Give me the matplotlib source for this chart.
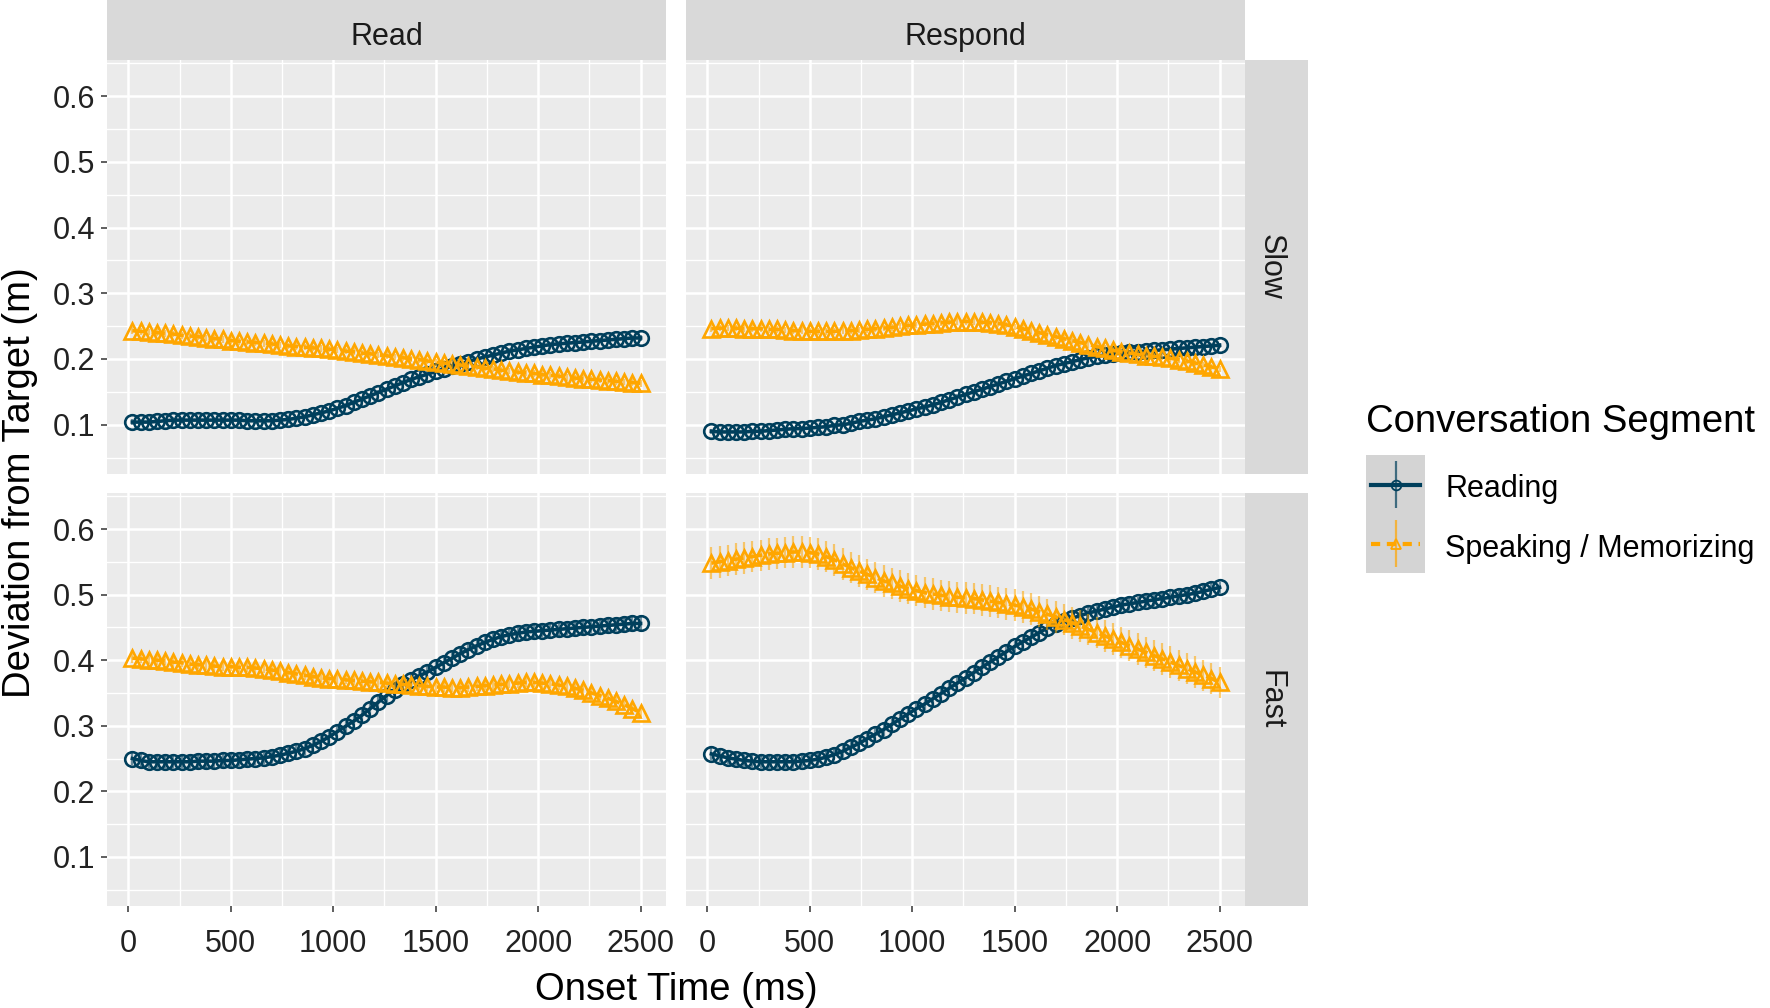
import numpy as np
import matplotlib
matplotlib.use('Agg')
import matplotlib.pyplot as plt
from matplotlib.ticker import MultipleLocator

plt.rcParams['font.family'] = ['Liberation Sans', 'DejaVu Sans']

# onset time grid (ms), one point every 40 ms
onset_ms = np.arange(20, 2501, 40)

# ---- Read / Slow ----
read_slow_reading = [
    0.104, 0.104, 0.104, 0.105, 0.106, 0.107, 0.107, 0.107, 0.107,
    0.107, 0.107, 0.107, 0.107, 0.107, 0.106, 0.106, 0.106, 0.106,
    0.107, 0.108, 0.110, 0.112, 0.115, 0.118, 0.121, 0.125, 0.129,
    0.134, 0.139, 0.144, 0.149, 0.154, 0.159, 0.164, 0.169, 0.173,
    0.177, 0.181, 0.185, 0.189, 0.193, 0.196, 0.200, 0.203, 0.206,
    0.209, 0.212, 0.214, 0.216, 0.218, 0.220, 0.222, 0.223, 0.224,
    0.225, 0.226, 0.227, 0.228, 0.229, 0.230, 0.231, 0.232, 0.232]
read_slow_speaking = [
    0.243, 0.242, 0.241, 0.240, 0.239, 0.238, 0.236, 0.235, 0.234,
    0.232, 0.231, 0.230, 0.228, 0.227, 0.226, 0.225, 0.224, 0.223,
    0.221, 0.220, 0.219, 0.218, 0.217, 0.216, 0.215, 0.214, 0.212,
    0.211, 0.209, 0.208, 0.206, 0.205, 0.203, 0.202, 0.200, 0.199,
    0.197, 0.195, 0.194, 0.192, 0.191, 0.189, 0.188, 0.186, 0.185,
    0.183, 0.182, 0.180, 0.179, 0.178, 0.176, 0.175, 0.174, 0.172,
    0.171, 0.170, 0.169, 0.168, 0.167, 0.166, 0.165, 0.164, 0.163]

# ---- Respond / Slow ----
respond_slow_reading = [
    0.090, 0.089, 0.089, 0.089, 0.089, 0.090, 0.090, 0.091, 0.092,
    0.093, 0.094, 0.094, 0.095, 0.096, 0.097, 0.099, 0.100, 0.102,
    0.105, 0.107, 0.109, 0.112, 0.115, 0.118, 0.121, 0.124, 0.127,
    0.130, 0.134, 0.138, 0.142, 0.146, 0.150, 0.154, 0.158, 0.162,
    0.166, 0.170, 0.174, 0.178, 0.182, 0.186, 0.190, 0.193, 0.196,
    0.199, 0.202, 0.204, 0.206, 0.208, 0.209, 0.210, 0.211, 0.212,
    0.213, 0.214, 0.215, 0.216, 0.217, 0.218, 0.219, 0.220, 0.221]
respond_slow_speaking = [
    0.246, 0.247, 0.247, 0.247, 0.246, 0.246, 0.246, 0.245, 0.245,
    0.244, 0.243, 0.243, 0.242, 0.242, 0.242, 0.242, 0.243, 0.243,
    0.244, 0.245, 0.246, 0.247, 0.248, 0.250, 0.251, 0.252, 0.253,
    0.254, 0.255, 0.256, 0.257, 0.257, 0.257, 0.256, 0.255, 0.254,
    0.252, 0.249, 0.246, 0.243, 0.240, 0.237, 0.234, 0.231, 0.228,
    0.225, 0.222, 0.219, 0.216, 0.213, 0.211, 0.209, 0.207, 0.205,
    0.204, 0.203, 0.201, 0.199, 0.197, 0.194, 0.191, 0.188, 0.185]

# ---- Read / Fast ----
read_fast_reading = [
    0.250, 0.247, 0.245, 0.245, 0.245, 0.245, 0.245, 0.245, 0.246,
    0.246, 0.246, 0.247, 0.247, 0.248, 0.249, 0.250, 0.251, 0.253,
    0.255, 0.258, 0.261, 0.265, 0.270, 0.276, 0.283, 0.291, 0.299,
    0.307, 0.316, 0.326, 0.336, 0.346, 0.355, 0.363, 0.370, 0.376,
    0.382, 0.389, 0.396, 0.403, 0.410, 0.416, 0.422, 0.427, 0.432,
    0.436, 0.439, 0.441, 0.443, 0.444, 0.445, 0.446, 0.447, 0.448,
    0.449, 0.450, 0.451, 0.452, 0.453, 0.454, 0.455, 0.456, 0.456]
read_fast_speaking = [
    0.403, 0.402, 0.401, 0.400, 0.399, 0.397, 0.396, 0.394, 0.393,
    0.392, 0.391, 0.390, 0.390, 0.389, 0.389, 0.388, 0.387, 0.385,
    0.383, 0.381, 0.379, 0.377, 0.375, 0.373, 0.372, 0.371, 0.370,
    0.369, 0.368, 0.367, 0.366, 0.365, 0.364, 0.363, 0.362, 0.361,
    0.360, 0.359, 0.359, 0.358, 0.358, 0.359, 0.360, 0.361, 0.362,
    0.363, 0.364, 0.365, 0.366, 0.366, 0.365, 0.364, 0.362, 0.360,
    0.357, 0.354, 0.350, 0.346, 0.342, 0.337, 0.332, 0.326, 0.320]

# ---- Respond / Fast ----
respond_fast_reading = [
    0.257, 0.254, 0.251, 0.249, 0.247, 0.246, 0.245, 0.245, 0.245,
    0.245, 0.245, 0.246, 0.247, 0.249, 0.252, 0.256, 0.261, 0.267,
    0.273, 0.280, 0.287, 0.294, 0.302, 0.310, 0.318, 0.326, 0.333,
    0.341, 0.349, 0.357, 0.365, 0.373, 0.381, 0.389, 0.397, 0.405,
    0.413, 0.421, 0.428, 0.435, 0.442, 0.449, 0.455, 0.460, 0.464,
    0.468, 0.472, 0.475, 0.478, 0.481, 0.484, 0.486, 0.488, 0.490,
    0.492, 0.494, 0.496, 0.498, 0.500, 0.502, 0.505, 0.508, 0.511]
respond_fast_speaking = [
    0.548, 0.550, 0.552, 0.554, 0.556, 0.558, 0.560, 0.562, 0.563,
    0.564, 0.565, 0.565, 0.564, 0.562, 0.558, 0.553, 0.547, 0.541,
    0.536, 0.531, 0.526, 0.521, 0.517, 0.513, 0.509, 0.506, 0.503,
    0.501, 0.499, 0.497, 0.496, 0.495, 0.494, 0.492, 0.490, 0.488,
    0.486, 0.484, 0.481, 0.478, 0.474, 0.470, 0.466, 0.462, 0.457,
    0.452, 0.447, 0.442, 0.437, 0.432, 0.427, 0.422, 0.417, 0.412,
    0.407, 0.402, 0.397, 0.392, 0.387, 0.382, 0.377, 0.372, 0.366]

# standard errors (half-width of the error bars) per panel and segment
se_reading = {('Slow', 'Read'): 0.004, ('Slow', 'Respond'): 0.004,
              ('Fast', 'Read'): 0.010, ('Fast', 'Respond'): 0.009}
se_speaking = {('Slow', 'Read'): 0.005, ('Slow', 'Respond'): 0.005,
               ('Fast', 'Read'): 0.007, ('Fast', 'Respond'): 0.024}

col_names = ['Read', 'Respond']
row_names = ['Slow', 'Fast']
segment_names = ['Reading', 'Speaking / Memorizing']
y_ticks = [0.1, 0.2, 0.3, 0.4, 0.5, 0.6]
x_ticks = [0, 500, 1000, 1500, 2000, 2500]

panel_data = {
    ('Slow', 'Read'): (read_slow_reading, read_slow_speaking),
    ('Slow', 'Respond'): (respond_slow_reading, respond_slow_speaking),
    ('Fast', 'Read'): (read_fast_reading, read_fast_speaking),
    ('Fast', 'Respond'): (respond_fast_reading, respond_fast_speaking),
}

NAVY = '#003f5c'
ORANGE = '#ffa600'
STRIP = '#d9d9d9'
PANEL = '#ebebeb'
TXT = '#1a1a1a'

W, H = 1770, 1008
fig = plt.figure(figsize=(W / 100, H / 100), dpi=100)


def box(x0, y0, x1, y1):
    # pixel box measured from top-left -> figure fraction rect
    return [x0 / W, 1 - y1 / H, (x1 - x0) / W, (y1 - y0) / H]


col_px = [(107, 666), (686, 1245)]
row_px = [(60, 474), (493, 906)]
strip_right = (1245, 1308)

for ri, row in enumerate(row_names):
    for ci, col in enumerate(col_names):
        x0, x1 = col_px[ci]
        y0, y1 = row_px[ri]
        ax = fig.add_axes(box(x0, y0, x1, y1))
        ax.set_facecolor(PANEL)
        for s in ax.spines.values():
            s.set_visible(False)
        ax.set_axisbelow(True)
        ax.set_xlim(-104, 2624)
        ax.set_ylim(0.025, 0.655)
        ax.xaxis.set_major_locator(MultipleLocator(500))
        ax.xaxis.set_minor_locator(MultipleLocator(250))
        ax.yaxis.set_major_locator(MultipleLocator(0.1))
        ax.yaxis.set_minor_locator(MultipleLocator(0.05))
        ax.set_xticks(x_ticks)
        ax.set_yticks(y_ticks)
        ax.grid(which='major', color='white', lw=1.8)
        ax.grid(which='minor', color='white', lw=1.0)
        ax.tick_params(which='minor', length=0)
        ax.tick_params(which='major', length=4.5, width=1.1, color='#333333',
                       labelsize=22, labelcolor='#222222', pad=4)
        ax.tick_params(axis='x', pad=12)
        if ri == 0:
            ax.tick_params(axis='x', length=0, labelbottom=False)
        if ci == 1:
            ax.tick_params(axis='y', length=0, labelleft=False)
        ax.set_yticklabels([f'{v:.1f}' for v in y_ticks])

        reading, speaking = panel_data[(row, col)]
        # reading: circles + solid line
        ax.errorbar(onset_ms, reading, yerr=se_reading[(row, col)], fmt='none',
                    ecolor=NAVY, elinewidth=1.6, alpha=0.55, capsize=0, zorder=2)
        ax.plot(onset_ms, reading, color=NAVY, lw=2.6, zorder=3)
        ax.plot(onset_ms, reading, ls='none', marker='o', ms=10.5, mfc='none',
                mec=NAVY, mew=1.9, zorder=3)
        # speaking / memorizing: triangles + dashed line
        ax.errorbar(onset_ms, speaking, yerr=se_speaking[(row, col)], fmt='none',
                    ecolor=ORANGE, elinewidth=1.6, alpha=0.55, capsize=0, zorder=4)
        ax.plot(onset_ms, speaking, color=ORANGE, lw=2.6, ls='--', zorder=5)
        ax.plot(onset_ms, speaking, ls='none', marker='^', ms=11, mfc='none',
                mec=ORANGE, mew=1.9, zorder=5)

# strips on top
for ci, col in enumerate(col_names):
    x0, x1 = col_px[ci]
    sax = fig.add_axes(box(x0, 0, x1, 60))
    sax.set_facecolor(STRIP)
    sax.set_xticks([]); sax.set_yticks([])
    for s in sax.spines.values():
        s.set_visible(False)
    sax.text(0.5, 0.38, col, ha='center', va='center', fontsize=22, color=TXT,
             transform=sax.transAxes)

# strips on the right
for ri, row in enumerate(row_names):
    y0, y1 = row_px[ri]
    sax = fig.add_axes(box(strip_right[0], y0, strip_right[1], y1))
    sax.set_facecolor(STRIP)
    sax.set_xticks([]); sax.set_yticks([])
    for s in sax.spines.values():
        s.set_visible(False)
    sax.text(0.40, 0.5, row, ha='center', va='center', fontsize=22, color=TXT,
             rotation=-90, transform=sax.transAxes)

fig.text(20 / W, 1 - 483 / H, 'Deviation from Target (m)', rotation=90,
         ha='center', va='center', fontsize=27.5, color='black')
fig.text(676 / W, 1 - 990 / H, 'Onset Time (ms)', ha='center', va='center',
         fontsize=27.5, color='black')

# legend
fig.text(1366 / W, 1 - 422 / H, 'Conversation Segment', ha='left', va='center',
         fontsize=27.5, color='black')
lax = fig.add_axes(box(1366, 455, 1425, 573))
lax.set_facecolor('#d4d4d4')
lax.set_xlim(0, 1); lax.set_ylim(0, 1)
lax.set_xticks([]); lax.set_yticks([])
for s in lax.spines.values():
    s.set_visible(False)
key_specs = [(NAVY, '-', 'o'), (ORANGE, '--', '^')]
for k, (name, (c, ls, mk)) in enumerate(zip(segment_names, key_specs)):
    yc = 0.75 - 0.5 * k
    lax.errorbar([0.5], [yc], yerr=[0.2], fmt='none', ecolor=c, elinewidth=1.6,
                 alpha=0.7, capsize=0)
    lax.plot([0.08, 0.92], [yc, yc], color=c, lw=3, ls=ls,
             dashes=(2.2, 1.6) if ls == '--' else (None, None))
    lax.plot([0.5], [yc], marker=mk, ms=7, mfc='none', mec=c, mew=1.3)
    fig.text(1445 / W, 1 - (460 + 118 * (0.25 + 0.5 * k)) / H, name,
             ha='left', va='center', fontsize=22, color='black')

fig.savefig('out.png', dpi=100)
